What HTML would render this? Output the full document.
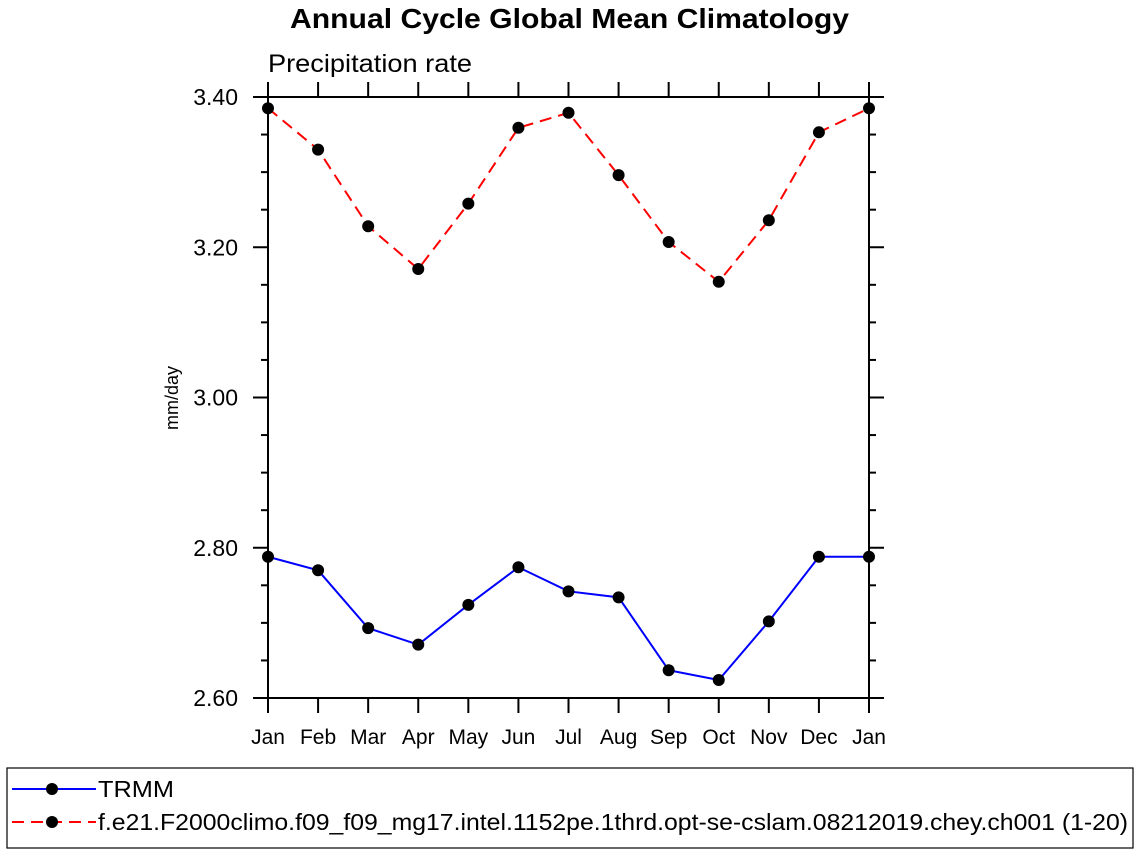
<!DOCTYPE html>
<html><head><meta charset="utf-8"><style>
body{margin:0;background:#fff;width:1138px;height:854px;overflow:hidden}
text{font-family:"Liberation Sans",Arial,sans-serif}
</style></head><body>
<svg id="chart" width="1138" height="854">
<text x="290" y="28" textLength="559" lengthAdjust="spacingAndGlyphs" font-size="28" font-weight="bold">Annual Cycle Global Mean Climatology</text>
<text x="268" y="72" textLength="204" lengthAdjust="spacingAndGlyphs" font-size="25">Precipitation rate</text>
<text transform="translate(178,398) rotate(-90)" text-anchor="middle" font-size="18">mm/day</text>
<g id="axes"></g>
<g id="series"></g>
<rect x="7" y="768" width="1126" height="80" fill="none" stroke="#000" stroke-width="1.2"/>
<g>
<line x1="12" y1="789" x2="96" y2="789" stroke="#0000ff" stroke-width="2"/>
<circle cx="52" cy="789" r="6" fill="#000"/>
<text x="98" y="797" font-size="23" textLength="76" lengthAdjust="spacingAndGlyphs">TRMM</text></g>
<g>
<line x1="12" y1="822" x2="96" y2="822" stroke="#ff0000" stroke-width="2" stroke-dasharray="12,7"/>
<circle cx="52" cy="822" r="6" fill="#000"/>
<text x="98" y="830" font-size="23" textLength="1030" lengthAdjust="spacingAndGlyphs">f.e21.F2000climo.f09_f09_mg17.intel.1152pe.1thrd.opt-se-cslam.08212019.chey.ch001 (1-20)</text></g>
</svg>
<script>
const months=["Jan","Feb","Mar","Apr","May","Jun","Jul","Aug","Sep","Oct","Nov","Dec","Jan"];
const trmm=[2.788,2.770,2.693,2.671,2.724,2.774,2.742,2.734,2.637,2.624,2.702,2.788,2.788];
const model=[3.385,3.330,3.228,3.171,3.258,3.359,3.379,3.296,3.207,3.154,3.236,3.353,3.385];
const yTicks=["2.60","2.80","3.00","3.20","3.40"];
const X0=268,X1=869,Y0=698,Y1=97,ymin=2.6,ymax=3.4;
const NS="http://www.w3.org/2000/svg";
const xs=i=>X0+(X1-X0)*i/(months.length-1);
const ys=v=>Y0-(v-ymin)/(ymax-ymin)*(Y0-Y1);
function mk(t,a,p){const e=document.createElementNS(NS,t);for(const k in a)e.setAttribute(k,a[k]);p.appendChild(e);return e;}
const ax=document.getElementById('axes');
const fr=mk('rect',{x:X0,y:Y1,width:X1-X0,height:Y0-Y1,fill:'none',stroke:'#000','stroke-width':2},ax);


months.forEach((m,i)=>{const x=xs(i);
mk('line',{x1:x,y1:Y0,x2:x,y2:Y0+15,stroke:'#000','stroke-width':2},ax);
mk('line',{x1:x,y1:Y1,x2:x,y2:Y1-15,stroke:'#000','stroke-width':2},ax);
const t=mk('text',{x:x,y:744,'text-anchor':'middle','font-size':21},ax);t.textContent=m;

});
for(let k=0;k<=16;k++){const v=ymin+k*0.05,y=ys(v),maj=k%4==0,L=maj?15:7;
mk('line',{x1:X0,y1:y,x2:X0-L,y2:y,stroke:'#000','stroke-width':2},ax);
mk('line',{x1:X1,y1:y,x2:X1+L,y2:y,stroke:'#000','stroke-width':2},ax);}
yTicks.forEach(s=>{const t=mk('text',{x:238,y:ys(parseFloat(s))+8,'text-anchor':'end','font-size':23},ax);t.textContent=s;

});
const sg=document.getElementById('series');
function draw(d,col,dash,name){
const pl=mk('polyline',{points:d.map((v,i)=>xs(i)+','+ys(v)).join(' '),fill:'none',stroke:col,'stroke-width':2,'stroke-dasharray':dash},sg);


d.forEach((v,i)=>{const c=mk('circle',{cx:xs(i),cy:ys(v),r:6,fill:'#000'},sg);

});}
draw(model,'#ff0000','12,7','model');
draw(trmm,'#0000ff','none','trmm');
</script>
</body></html>
